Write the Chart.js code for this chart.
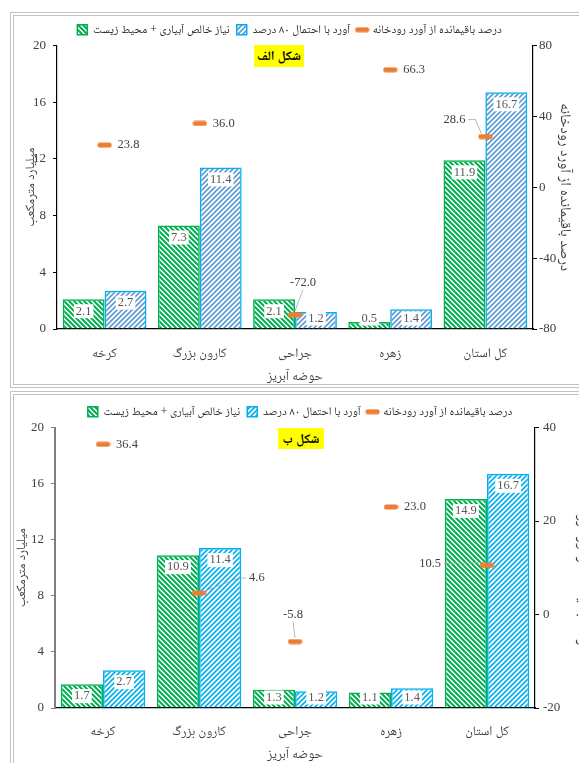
<!DOCTYPE html>
<html lang="fa">
<head>
<meta charset="UTF-8">
<title>نیاز و آورد حوضه‌های آبریز</title>
<script src="https://cdn.jsdelivr.net/npm/chart.js@4.4.0/dist/chart.umd.min.js"></script>
<style>
    body {
        margin: 0;
        background: #fff;
        width: 579px;
        height: 763px;
        overflow: hidden;
        position: relative;
        font-family: "Liberation Serif", "Noto Naskh Arabic", "Noto Sans Arabic", "DejaVu Sans", serif;
    }
    .panel {
        position: absolute;
        left: 10px;
        width: 640px;
        border: 4px double #c2c2c2;
        box-sizing: border-box;
    }
    #p1 { top: 12px; height: 376px; }
    #p2 { top: 391px; height: 420px; }
    canvas { position: absolute; left: 0; }
    #c1 { top: 12px; }
    #c2 { top: 392px; }
    .tag {
        position: absolute;
        transform: translateX(-50%);
        background: #ffff00;
        font-weight: bold;
        font-size: 13px;
        color: #000;
        min-width: 46px;
        padding: 0 3px;
        box-sizing: border-box;
        white-space: nowrap;
        height: 22px;
        line-height: 22px;
        text-align: center;
        z-index: 2;
    }
</style>
</head>
<body>
<div class="panel" id="p1"></div>
<div class="panel" id="p2"></div>
<canvas id="c1" width="579" height="374"></canvas>
<canvas id="c2" width="600" height="371"></canvas>
<div class="tag" style="left:279px; top:45px">شکل الف</div>
<div class="tag" style="left:301px; top:428px; height:21px; line-height:21px">شکل ب</div>

<script>
// categories and series
const basins = ['کرخه', 'کارون بزرگ', 'جراحی', 'زهره', 'کل استان'];
const seriesNames = ['نیاز خالص آبیاری + محیط زیست', 'آورد با احتمال ۸۰ درصد', 'درصد باقیمانده از آورد رودخانه'];
const xTitle = 'حوضه آبریز';
const leftTitle = 'میلیارد مترمکعب';

// chart A (شکل الف)
const demandA = [2.1, 7.3, 2.1, 0.5, 11.9];
const inflowA = [2.7, 11.4, 1.2, 1.4, 16.7];
const remainA = [23.8, 36.0, -72.0, 66.3, 28.6];
// chart B (شکل ب)
const demandB = [1.7, 10.9, 1.3, 1.1, 14.9];
const inflowB = [2.7, 11.4, 1.2, 1.4, 16.7];
const remainB = [36.4, 4.6, -5.8, 23.0, 10.5];

// axis ticks
const leftTicks = [0, 4, 8, 12, 16, 20];
const rightTicksA = [-80, -40, 0, 40, 80];
const rightTicksB = [-20, 0, 20, 40];

// where the orange value labels sit relative to their marker
const remainLabelA = [
    {dx: 13, dy: 0, align: 'left'},
    {dx: 13, dy: 0, align: 'left'},
    {dx: 8, dy: -32, align: 'center', leader: true},
    {dx: 13, dy: 0, align: 'left'},
    {dx: -20, dy: -17, align: 'right', leader: true}
];
const remainLabelB = [
    {dx: 13, dy: 0, align: 'left'},
    {dx: 50, dy: -15, align: 'left', leader: true},
    {dx: -2, dy: -27, align: 'center', leader: true},
    {dx: 13, dy: 0, align: 'left'},
    {dx: -46, dy: -2, align: 'right', leader: true}
];

const GREEN = '#00b050';
const CYAN = '#00b0f0';
const STEEL = '#5b9bd5';
const ORANGE = '#ed7d31';
const TEXT = '#404040';
const SERIF = '"Liberation Serif", "Noto Naskh Arabic", "Noto Sans Arabic", "DejaVu Sans", serif';

function hatch(color, dir, lw) {
    const s = 5;
    const c = document.createElement('canvas');
    c.width = s; c.height = s;
    const g = c.getContext('2d');
    g.strokeStyle = color;
    g.lineWidth = lw;
    g.beginPath();
    if (dir === 'down') {
        g.moveTo(-1, -1); g.lineTo(s + 1, s + 1);
        g.moveTo(-1, s - 1); g.lineTo(1, s + 1);
        g.moveTo(s - 1, -1); g.lineTo(s + 1, 1);
    } else {
        g.moveTo(-1, s + 1); g.lineTo(s + 1, -1);
        g.moveTo(-1, 1); g.lineTo(1, -1);
        g.moveTo(s - 1, s + 1); g.lineTo(s + 1, s - 1);
    }
    g.stroke();
    return g.createPattern(c, 'repeat');
}

// small rounded orange dash used as the point marker
const dash = document.createElement('canvas');
dash.width = 15; dash.height = 6;
(function () {
    const g = dash.getContext('2d');
    g.fillStyle = ORANGE;
    g.beginPath();
    g.roundRect(0.5, 0.5, 14, 5, 2);
    g.fill();
})();

const valueLabels = {
    id: 'valueLabels',
    afterDatasetsDraw(chart, args, opts) {
        const ctx = chart.ctx;
        ctx.save();
        ctx.font = '12.5px ' + SERIF;
        ctx.textBaseline = 'middle';
        ctx.textAlign = 'center';
        [0, 1].forEach(di => {
            chart.getDatasetMeta(di).data.forEach((bar, i) => {
                const txt = chart.data.datasets[di].data[i].toFixed(1);
                const y = Math.min(bar.y + 12, bar.base - 10);
                const w = ctx.measureText(txt).width + 4;
                ctx.fillStyle = '#fff';
                ctx.fillRect(bar.x - w / 2, y - 7, w, 14);
                ctx.fillStyle = '#595959';
                ctx.fillText(txt, bar.x, y);
            });
        });
        const place = opts.place;
        chart.getDatasetMeta(2).data.forEach((pt, i) => {
            const p = place[i];
            const txt = chart.data.datasets[2].data[i].toFixed(1);
            const lx = pt.x + p.dx, ly = pt.y + p.dy;
            if (p.leader) {
                ctx.strokeStyle = '#a6a6a6';
                ctx.lineWidth = 0.8;
                ctx.beginPath();
                if (p.align === 'center') {
                    ctx.moveTo(lx, ly + 7);
                    ctx.lineTo(pt.x, pt.y - 4);
                } else if (p.align === 'right') {
                    ctx.moveTo(lx + 3, ly);
                    ctx.lineTo(lx + 10, ly);
                    ctx.lineTo(pt.x - 4, pt.y - 3);
                } else {
                    ctx.moveTo(lx - 3, ly);
                    ctx.lineTo(lx - 10, ly);
                    ctx.lineTo(pt.x + 6, pt.y - 2);
                }
                ctx.stroke();
            }
            ctx.fillStyle = TEXT;
            ctx.textAlign = p.align;
            ctx.fillText(txt, lx, ly);
        });
        ctx.restore();
    }
};

function makeChart(id, d) {
    const font = {family: SERIF, size: 13};
    return new Chart(document.getElementById(id), {
        type: 'bar',
        data: {
            labels: basins,
            datasets: [{
                label: seriesNames[0],
                data: d.demand,
                backgroundColor: hatch(GREEN, 'down', 2),
                borderColor: GREEN,
                borderWidth: 1.5,
                pointStyle: 'rect',
                yAxisID: 'y',
                order: 2
            }, {
                label: seriesNames[1],
                data: d.inflow,
                backgroundColor: hatch(d.stripe, 'up', 1.6),
                borderColor: CYAN,
                borderWidth: 1.5,
                pointStyle: 'rect',
                yAxisID: 'y',
                order: 2
            }, {
                type: 'line',
                label: seriesNames[2],
                data: d.remain,
                showLine: false,
                pointStyle: dash,
                pointRadius: 7,
                pointBorderWidth: 0,
                borderColor: ORANGE,
                backgroundColor: ORANGE,
                yAxisID: 'y2',
                order: 1
            }]
        },
        options: {
            responsive: false,
            animation: false,
            devicePixelRatio: 1,
            categoryPercentage: 0.88,
            barPercentage: 1.0,
            layout: {padding: {top: d.padTop, left: 0, right: 0, bottom: 0}},
            plugins: {
                tooltip: {enabled: false},
                valueLabels: {place: d.place},
                legend: {
                    position: 'top',
                    labels: {
                        usePointStyle: true,
                        boxWidth: 10,
                        boxHeight: 10,
                        padding: 7,
                        color: '#262626',
                        font: {family: SERIF, size: 11.5},
                        sort: (a, b) => a.datasetIndex - b.datasetIndex
                    }
                }
            },
            scales: {
                x: {
                    grid: {display: false},
                    border: {color: '#000', width: 1.2},
                    ticks: {color: TEXT, font: font, padding: d.xTickPad},
                    title: {display: true, text: xTitle, color: TEXT, font: font, padding: {top: 0, bottom: d.xTitlePad}},
                    afterFit: s => { s.height = d.xHeight; }
                },
                y: {
                    position: 'left',
                    min: leftTicks[0],
                    max: leftTicks[leftTicks.length - 1],
                    ticks: {stepSize: leftTicks[1] - leftTicks[0], color: TEXT, font: font, padding: 7},
                    grid: {drawOnChartArea: false, tickLength: 4, color: d.leftAxisColor},
                    border: {color: d.leftAxisColor, width: d.leftAxisWidth},
                    title: {display: true, text: leftTitle, color: TEXT, font: font, padding: {top: d.leftTitlePad, bottom: 0}},
                    afterFit: s => { s.width = d.leftWidth; }
                },
                y2: {
                    position: 'right',
                    min: d.rightTicks[0],
                    max: d.rightTicks[d.rightTicks.length - 1],
                    ticks: {stepSize: d.rightTicks[1] - d.rightTicks[0], color: TEXT, font: font, padding: d.rightTickPad},
                    grid: {drawOnChartArea: false, tickLength: 4, color: '#000'},
                    border: {color: '#000', width: 1.2},
                    title: {display: true, text: seriesNames[2], color: TEXT, font: {family: SERIF, size: 15}, padding: {top: d.rightTitlePad, bottom: 0}},
                    afterFit: s => { s.width = d.rightWidth; }
                }
            }
        },
        plugins: [valueLabels]
    });
}

makeChart('c1', {
    demand: demandA, inflow: inflowA, remain: remainA, place: remainLabelA,
    stripe: STEEL, rightTicks: rightTicksA,
    padTop: 5, xHeight: 57, xTickPad: 9, xTitlePad: 2,
    leftWidth: 57, leftTitlePad: 23, leftAxisColor: '#000', leftAxisWidth: 1.2,
    rightWidth: 46, rightTitlePad: 5, rightTickPad: 2
});

makeChart('c2', {
    demand: demandB, inflow: inflowB, remain: remainB, place: remainLabelB,
    stripe: CYAN, rightTicks: rightTicksB,
    padTop: 7, xHeight: 55, xTickPad: 8, xTitlePad: 1,
    leftWidth: 55, leftTitlePad: 14, leftAxisColor: '#7f7f7f', leftAxisWidth: 2,
    rightWidth: 65, rightTitlePad: 8, rightTickPad: 4
});
</script>
</body>
</html>
